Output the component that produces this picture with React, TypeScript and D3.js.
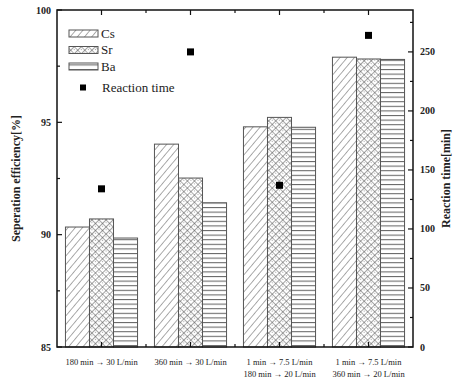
import React, { useEffect, useRef } from "react";
import * as d3 from "d3";

const conditions = [
  ["180 min → 30 L/min"],
  ["360 min → 30 L/min"],
  ["1 min → 7.5 L/min", "180 min → 20 L/min"],
  ["1 min → 7.5 L/min", "360 min → 20 L/min"],
];
const elements = ["Cs", "Sr", "Ba"];
const csValues = [90.34, 94.03, 94.8, 97.9];
const srValues = [90.7, 92.52, 95.22, 97.82];
const baValues = [89.85, 91.42, 94.78, 97.8];
const reactionTime = [134, 250, 137, 264];
const leftTicks = [85, 90, 95, 100];
const rightTicks = [0, 50, 100, 150, 200, 250];

const W = 461;
const H = 380;
const margin = { top: 10, right: 48, bottom: 33, left: 57 };
const FONT = "'Liberation Serif', 'DejaVu Serif', serif";

function App() {
  const ref = useRef<SVGSVGElement>(null);

  useEffect(() => {
    const svg = d3.select(ref.current);
    svg.selectAll("*").remove();

    const x0 = margin.left;
    const x1 = W - margin.right;
    const y0 = H - margin.bottom;
    const y1 = margin.top;

    const defs = svg.append("defs");
    const diag = defs
      .append("pattern")
      .attr("id", "pat-cs")
      .attr("patternUnits", "userSpaceOnUse")
      .attr("width", 5.5)
      .attr("height", 5.5)
      .attr("patternTransform", "rotate(40)");
    diag.append("rect").attr("width", 5.5).attr("height", 5.5).attr("fill", "#fff");
    diag.append("line").attr("x1", 0).attr("y1", 0).attr("x2", 0).attr("y2", 5.5)
      .attr("stroke", "#666").attr("stroke-width", 1.1);

    const cross = defs
      .append("pattern")
      .attr("id", "pat-sr")
      .attr("patternUnits", "userSpaceOnUse")
      .attr("width", 5)
      .attr("height", 5)
      .attr("patternTransform", "rotate(45)");
    cross.append("rect").attr("width", 5).attr("height", 5).attr("fill", "#fff");
    cross.append("path").attr("d", "M0,0V5M0,0H5").attr("stroke", "#555").attr("stroke-width", 1.1);
    cross.append("circle").attr("cx", 2.5).attr("cy", 2.5).attr("r", 0.6).attr("fill", "#999");

    const horiz = defs
      .append("pattern")
      .attr("id", "pat-ba")
      .attr("patternUnits", "userSpaceOnUse")
      .attr("width", 6)
      .attr("height", 4.6);
    horiz.append("rect").attr("width", 6).attr("height", 4.6).attr("fill", "#fff");
    horiz.append("line").attr("x1", 0).attr("y1", 0.5).attr("x2", 6).attr("y2", 0.5)
      .attr("stroke", "#666").attr("stroke-width", 1.1);

    const fills = ["url(#pat-cs)", "url(#pat-sr)", "url(#pat-ba)"];
    const series = [csValues, srValues, baValues];

    const xScale = d3
      .scaleBand<number>()
      .domain(d3.range(conditions.length))
      .range([x0, x1])
      .paddingInner(0.19)
      .paddingOuter(0.095);
    const xSub = d3.scaleBand<number>().domain(d3.range(elements.length)).range([0, xScale.bandwidth()]);
    const yLeft = d3.scaleLinear().domain([85, 100]).range([y0, y1]);
    const yRight = d3.scaleLinear().domain([0, 285.5]).range([y0, y1]);

    // bars
    series.forEach((vals, si) => {
      svg
        .append("g")
        .selectAll("rect")
        .data(vals)
        .join("rect")
        .attr("x", (_, i) => xScale(i)! + xSub(si)!)
        .attr("y", (d) => yLeft(d))
        .attr("width", xSub.bandwidth())
        .attr("height", (d) => y0 - yLeft(d))
        .attr("fill", fills[si])
        .attr("stroke", "#555")
        .attr("stroke-width", 1);
    });

    // reaction time points
    svg
      .append("g")
      .selectAll("rect")
      .data(reactionTime)
      .join("rect")
      .attr("x", (_, i) => xScale(i)! + xScale.bandwidth() / 2 - 3.5)
      .attr("y", (d) => yRight(d) - 3.5)
      .attr("width", 7)
      .attr("height", 7)
      .attr("fill", "#000");

    // frame
    svg
      .append("rect")
      .attr("x", x0)
      .attr("y", y1)
      .attr("width", x1 - x0)
      .attr("height", y0 - y1)
      .attr("fill", "none")
      .attr("stroke", "#111")
      .attr("stroke-width", 1.5);

    const tick = svg.append("g").attr("stroke", "#111").attr("stroke-width", 1.2);
    // left ticks
    d3.range(85, 100.1, 2.5).forEach((v) => {
      const len = v % 5 === 0 ? 5 : 3;
      tick.append("line").attr("x1", x0).attr("x2", x0 + len).attr("y1", yLeft(v)).attr("y2", yLeft(v));
    });
    // right ticks
    d3.range(0, 285, 25).forEach((v) => {
      const len = v % 50 === 0 ? 5 : 3;
      tick.append("line").attr("x1", x1).attr("x2", x1 - len).attr("y1", yRight(v)).attr("y2", yRight(v));
    });
    // top/bottom ticks at group centres and boundaries
    conditions.forEach((_, i) => {
      const cx = xScale(i)! + xScale.bandwidth() / 2;
      tick.append("line").attr("x1", cx).attr("x2", cx).attr("y1", y0).attr("y2", y0 - 5);
      tick.append("line").attr("x1", cx).attr("x2", cx).attr("y1", y1).attr("y2", y1 + 5);
      if (i > 0) {
        const bx = xScale(i)! - (xScale.step() - xScale.bandwidth()) / 2;
        tick.append("line").attr("x1", bx).attr("x2", bx).attr("y1", y0).attr("y2", y0 - 3);
        tick.append("line").attr("x1", bx).attr("x2", bx).attr("y1", y1).attr("y2", y1 + 3);
      }
    });

    const txt = svg.append("g").attr("font-family", FONT).attr("fill", "#222");
    leftTicks.forEach((v) => {
      txt.append("text").attr("x", x0 - 6).attr("y", yLeft(v) + 3.5).attr("text-anchor", "end")
        .attr("font-size", 10).attr("font-weight", "bold").text(v);
    });
    rightTicks.forEach((v) => {
      txt.append("text").attr("x", x1 + 7).attr("y", yRight(v) + 3.5).attr("text-anchor", "start")
        .attr("font-size", 10).attr("font-weight", "bold").text(v);
    });
    conditions.forEach((lines, i) => {
      const cx = xScale(i)! + xScale.bandwidth() / 2;
      lines.forEach((l, j) => {
        txt.append("text").attr("x", cx).attr("y", 365 + j * 12).attr("text-anchor", "middle")
          .attr("font-size", 8.5).text(l);
      });
    });

    txt.append("text")
      .attr("transform", `translate(20,${(y0 + y1) / 2}) rotate(-90)`)
      .attr("text-anchor", "middle").attr("font-size", 12).attr("font-weight", "bold")
      .text("Seperation efficiency[%]");
    txt.append("text")
      .attr("transform", `translate(450,${(y0 + y1) / 2}) rotate(-90)`)
      .attr("text-anchor", "middle").attr("font-size", 12).attr("font-weight", "bold")
      .text("Reaction time[min]");

    // legend
    const legend = svg.append("g").attr("font-family", FONT);
    elements.forEach((e, i) => {
      const ly = 30 + i * 16.5;
      legend.append("rect").attr("x", 69).attr("y", ly).attr("width", 29).attr("height", 7)
        .attr("fill", fills[i]).attr("stroke", "#555").attr("stroke-width", 1);
      legend.append("text").attr("x", 101).attr("y", ly + 7.5).attr("font-size", 13).attr("fill", "#222").text(e);
    });
    legend.append("rect").attr("x", 80).attr("y", 84.5).attr("width", 6).attr("height", 6).attr("fill", "#000");
    legend.append("text").attr("x", 102).attr("y", 92).attr("font-size", 13).attr("fill", "#222").text("Reaction time");
  }, []);

  return (
    <svg
      ref={ref}
      width={W}
      height={H}
      style={{ position: "absolute", left: 0, top: 0, background: "#fff" }}
    ></svg>
  );
}

export default App;
